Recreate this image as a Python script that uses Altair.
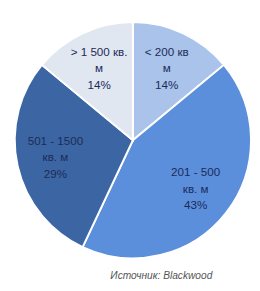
import altair as alt
import pandas as pd

categories = ["< 200 кв. м", "201 - 500 кв. м", "501 - 1500 кв. м", "> 1 500 кв. м"]
label_lines = ["< 200 кв\nм", "201 - 500\nкв. м", "501 - 1500\nкв. м", "> 1 500 кв.\nм"]
shares = [14, 43, 29, 14]
colors = ["#a9c3ea", "#5b8fdc", "#3c66a3", "#e1e7f1"]
source_text = ["Источник: Blackwood"]

df = pd.DataFrame({
    "category": categories,
    "share": shares,
    "idx": list(range(len(categories))),
    "label": [f"{l}\n{s}%" for l, s in zip(label_lines, shares)],
})

cx, cy = 129, 132

base = alt.Chart(df).encode(
    theta=alt.Theta("share:Q", stack=True),
    order=alt.Order("idx:Q", sort="ascending"),
    x=alt.value(cx),
    y=alt.value(cy),
)

arcs = base.mark_arc(outerRadius=122, stroke="white", strokeWidth=2).encode(
    color=alt.Color("category:N", scale=alt.Scale(domain=categories, range=colors), legend=None)
)

labels = base.mark_text(
    radius=82, dy=-17, lineBreak="\n", fontSize=12, lineHeight=17,
    color="#1c2b58", font="Liberation Sans", baseline="middle", align="center"
).encode(text="label:N")

src = alt.Chart(pd.DataFrame({"t": source_text})).mark_text(
    align="right", baseline="middle", fontStyle="italic", fontSize=10.5,
    color="#555555", font="Liberation Sans"
).encode(text="t:N", x=alt.value(211), y=alt.value(272))

chart = alt.layer(arcs, labels, src).properties(
    width=252, height=275, autosize=alt.AutoSizeParams(type="none"), padding=0
).configure_view(stroke=None)

chart.save("out.html", embed_options={"renderer": "svg", "actions": False})
